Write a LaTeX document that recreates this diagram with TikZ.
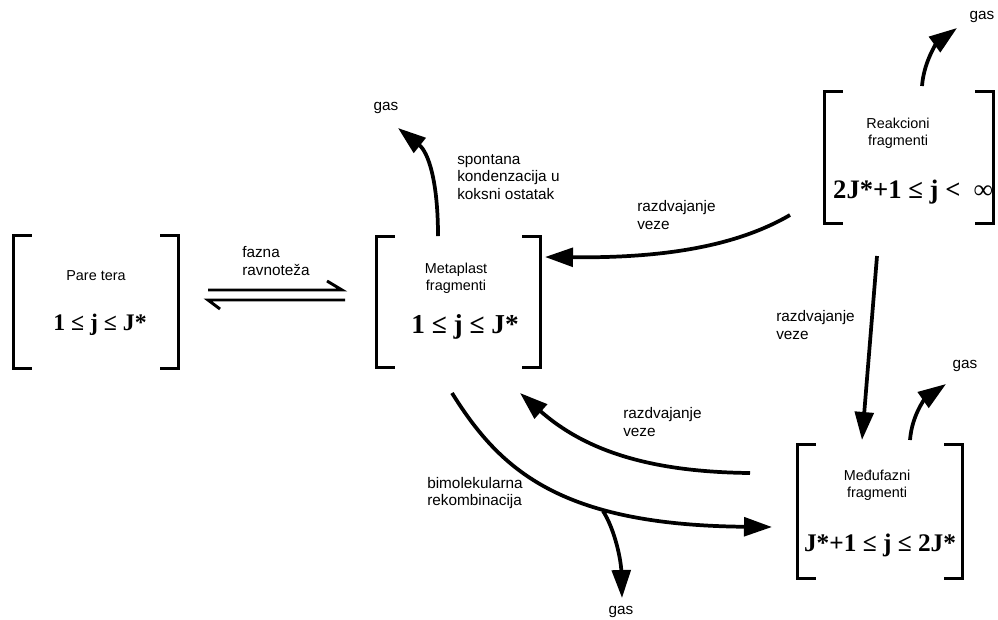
\documentclass[tikz,border=0pt]{standalone}
\usepackage{fontspec}
\setmainfont{Liberation Sans}
\newfontfamily\rangefont{Liberation Serif}
\usetikzlibrary{arrows.meta}

% square brackets drawn round a named area node
\newcommand\brackets[1]{%
  \draw[bracket] ([xshift=13.5pt]#1.north west) -- (#1.north west) -- (#1.south west) -- ([xshift=13.5pt]#1.south west);
  \draw[bracket] ([xshift=-13.5pt]#1.north east) -- (#1.north east) -- (#1.south east) -- ([xshift=-13.5pt]#1.south east);}

\tikzset{
  flow/.style={line width=2.8pt, -{Triangle[length=21pt,width=14pt]}},
  harpoon/.style={line width=2.2pt, line join=miter},
  bracket/.style={line width=1.9pt, line join=miter},
  area/.style={inner sep=0pt, minimum width=123pt, minimum height=99pt},
  lbl/.style={font=\fontsize{10.8}{13}\selectfont, inner sep=0.75pt},
  note/.style={lbl, font=\fontsize{11.5}{13}\selectfont, anchor=west, align=left},
  rangetext/.style={font=\rangefont\bfseries\fontsize{#1}{#1}\selectfont, inner sep=0pt},
  rangetext/.default=18
}

\begin{document}
\begin{tikzpicture}[x=0.75pt,y=0.75pt,yscale=-1,xscale=1]
\useasboundingbox (0,0) rectangle (998,619);

%Areas
\node[area] (pare) at (96,302) {};
\node[area, minimum width=122.25pt, minimum height=97.5pt] (meta) at (458.5,302) {};
\node[area, minimum width=126pt, minimum height=98.25pt] (reak) at (909,157.5) {};
\node[area, minimum height=99.75pt] (medju) at (880,511.5) {};
\brackets{pare}
\brackets{meta}
\brackets{reak}
\brackets{medju}

% Text in areas
\node[lbl] (pare-name) at (96,276) {Pare tera};
\node[rangetext=17.8] (pare-range) at (100,325) {1 ≤ j ≤ J*};
\node[lbl, align=center] (meta-name) at (456,278) {Metaplast\\fragmenti};
\node[rangetext=20.5] (meta-range) at (465,327) {1 ≤ j ≤ J*};
\node[lbl, align=center] (reak-name) at (898,133) {Reakcioni\\fragmenti};
\node[rangetext=20] (reak-range) at (913,192) {2J*+1 ≤ j <\ \ ∞};
\node[lbl, align=center] (medju-name) at (877,485) {Međufazni\\fragmenti};
\node[rangetext=19] (medju-range) at (880,545) {J*+1 ≤ j ≤ 2J*};

% Gas outlets
\node[lbl, font=\fontsize{11.5}{13}\selectfont] (gas-meta) at (386,108) {gas};
\node[lbl, font=\fontsize{11.5}{13}\selectfont] (gas-reak) at (982,17) {gas};
\node[lbl, font=\fontsize{11.5}{13}\selectfont] (gas-medju) at (965,366) {gas};
\node[lbl, font=\fontsize{11.5}{13}\selectfont] (gas-rek) at (621,612) {gas};

% Arrow ends
\coordinate (eq-a) at (208,290);
\coordinate (eq-b) at (342,290);
\coordinate (eq-c) at (345,300);
\coordinate (eq-d) at (208,300);
\coordinate (meta-top) at (438,236);
\coordinate (meta-out) at (398,128);
\coordinate (reak-top) at (922,86);
\coordinate (reak-out) at (957,28);
\coordinate (medju-top) at (910,440);
\coordinate (medju-out) at (946,384);
\coordinate (reak-left) at (790,215);
\coordinate (meta-right) at (545,257);
\coordinate (reak-low) at (877,256);
\coordinate (medju-in) at (862,440);
\coordinate (medju-left) at (750,473);
\coordinate (meta-low) at (520,393);
\coordinate (meta-rek) at (452,393);
\coordinate (medju-rek) at (772,527);
\coordinate (rek-fork) at (603,511);
\coordinate (rek-out) at (622,598);

% Phase equilibrium
\draw[harpoon] (eq-a) -- (eq-b) -- ++(-15,-9);
\draw[harpoon] (eq-c) -- (eq-d) -- ++(12,9);
\node[note] (eq-text) at (241,261) {fazna\\ravnoteža};

% Gas release
\draw[flow] (meta-top) .. controls (438,180) and (428,152) .. (meta-out);
\draw[flow] (reak-top) .. controls (924,60) and (938,42) .. (reak-out);
\draw[flow] (medju-top) .. controls (912,414) and (926,398) .. (medju-out);
\node[note] (kond-text) at (456,177) {spontana\\kondenzacija u\\koksni ostatak};

% Bond breaking
\draw[flow] (reak-left) .. controls (730,250) and (650,258) .. (meta-right);
\draw[flow] (reak-low) -- (medju-in);
\draw[flow] (medju-left) .. controls (660,472) and (590,455) .. (meta-low);
\node[note] (razd-a) at (636,215) {razdvajanje\\veze};
\node[note] (razd-b) at (775,325) {razdvajanje\\veze};
\node[note] (razd-c) at (622,422) {razdvajanje\\veze};

% Recombination
\draw[flow] (meta-rek) .. controls (500,470) and (560,525) .. (medju-rek);
\draw[flow] (rek-fork) .. controls (615,530) and (621,560) .. (rek-out);
\node[note] (rek-text) at (426,493) {bimolekularna\\rekombinacija};

\end{tikzpicture}
\end{document}
